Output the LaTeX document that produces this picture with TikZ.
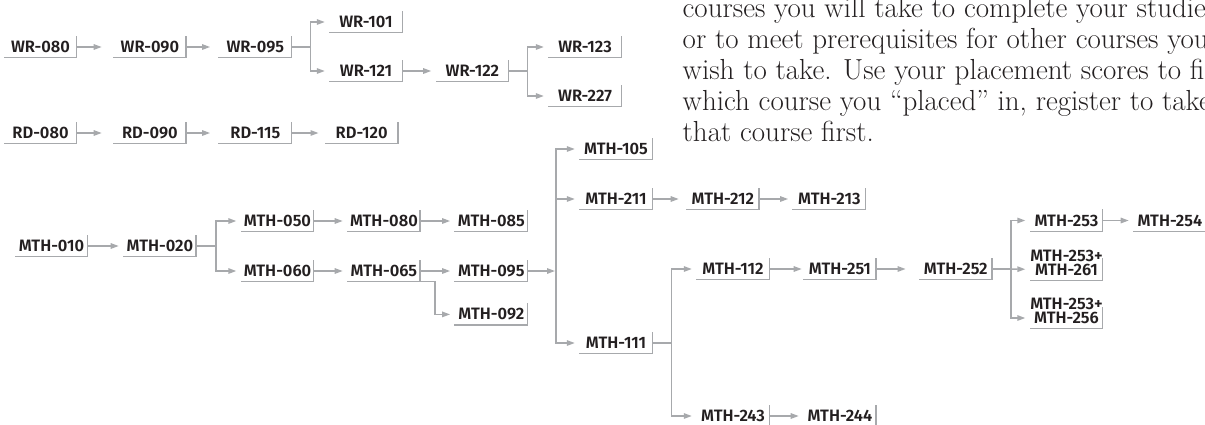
\documentclass[tikz,border=0pt]{standalone}
\usepackage{fontspec}
\newfontfamily\crsfont{Fira Sans SemiBold}
\usetikzlibrary{arrows.meta,positioning}
\definecolor{linegray}{HTML}{A7A9AC}
\definecolor{ink}{HTML}{231F20}

\begin{document}
\begin{tikzpicture}[x=1pt,y=-1pt,->,>={Triangle[length=8pt,width=5.5pt]},
                    shorten >=5pt,line width=1.4pt,linegray,node distance=34pt]
  \tikzstyle{course}=[minimum width=71pt,minimum height=20pt,inner sep=0pt,
    text=ink,font=\crsfont\fontsize{16.5}{16.5}\selectfont,
    append after command={(\tikzlastnode.south west)
      edge[-,shorten >=0pt,line cap=rect] (\tikzlastnode.south east)
      (\tikzlastnode.south east)
      edge[-,shorten >=0pt,line cap=rect] (\tikzlastnode.north east)}]
  \tikzstyle{pluslabel}=[inner sep=0pt,yshift=-3.2pt,text=ink,
    font=\crsfont\fontsize{16.5}{16.5}\selectfont]

  \useasboundingbox (0,0) rectangle (1205,424);

  % writing
  \node[course] (wr080) at (40.5,47) {WR-080};
  \node[course,right=37pt of wr080] (wr090) {WR-090};
  \node[course,right=33pt of wr090] (wr095) {WR-095};
  \node[course] (wr101) at (366,22) {WR-101};
  \node[course] (wr121) at (366,71) {WR-121};
  \node[course,right=of wr121] (wr122) {WR-122};
  \node[course] (wr123) at (585,47) {WR-123};
  \node[course] (wr227) at (585,96) {WR-227};

  % reading
  \node[course] (rd080) at (40.5,133) {RD-080};
  \node[course,right=37pt of rd080] (rd090) {RD-090};
  \node[course,right=33pt of rd090] (rd115) {RD-115};
  \node[course,right=of rd115] (rd120) {RD-120};

  % math
  \node[course] (mth010) at (51.5,246) {MTH-010};
  \node[course,right=36pt of mth010] (mth020) {MTH-020};
  \node[course] (mth050) at (277.5,221) {MTH-050};
  \node[course,right=of mth050] (mth080) {MTH-080};
  \node[course,right=35pt of mth080] (mth085) {MTH-085};
  \node[course] (mth060) at (277.5,271) {MTH-060};
  \node[course,right=of mth060] (mth065) {MTH-065};
  \node[course,right=35pt of mth065] (mth095) {MTH-095};
  \node[course,below=22pt of mth095] (mth092) {MTH-092};
  \node[course] (mth105) at (616,149) {MTH-105};
  \node[course] (mth211) at (616,199) {MTH-211};
  \node[course,right=34.5pt of mth211] (mth212) {MTH-212};
  \node[course,right=of mth212] (mth213) {MTH-213};
  \node[course] (mth111) at (616,343) {MTH-111};
  \node[course] (mth112) at (733,269) {MTH-112};
  \node[course,right=34.5pt of mth112] (mth251) {MTH-251};
  \node[course,right=43.5pt of mth251] (mth252) {MTH-252};
  \node[course] (mth243) at (733,416) {MTH-243};
  \node[course,right=34.5pt of mth243] (mth244) {MTH-244};
  \node[course] (mth253) at (1066.5,220.5) {MTH-253};
  \node[course,right=31pt of mth253] (mth254) {MTH-254};
  \node[course,label={[pluslabel]north:MTH-253+}] (mth261) at (1066.5,269.5) {MTH-261};
  \node[course,label={[pluslabel]north:MTH-253+}] (mth256) at (1066.5,318) {MTH-256};

  \node[anchor=base west,align=left,inner sep=0pt,text=ink,
        font=\fontsize{29}{31}\selectfont] (blurb) at (682,141)
    {courses you will take to complete your studies\\
     or to meet prerequisites for other courses you\\
     wish to take. Use your placement scores to find\\
     which course you “placed” in, register to take\\
     that course first.};

  \path (wr080) edge[shorten >=12pt] (wr090)
        (wr090) edge[shorten >=9pt] (wr095)
        (wr121) edge (wr122)
        (rd080) edge[shorten >=12pt] (rd090)
        (rd090) edge[shorten >=9pt] (rd115)
        (rd115) edge[shorten >=7pt] (rd120)
        (mth010) edge (mth020)
        (mth050) edge (mth080)
        (mth080) edge (mth085)
        (mth060) edge (mth065)
        (mth065) edge (mth095)
        (mth211) edge[shorten >=8pt] (mth212)
        (mth212) edge (mth213)
        (mth112) edge[shorten >=2pt] (mth251)
        (mth251) edge[shorten >=14pt] (mth252)
        (mth243) edge (mth244)
        (mth253) edge (mth254);

  % branches
  \draw (wr095.east) -- ++(19,0) |- (wr101);
  \draw (wr095.east) -- ++(19,0) |- (wr121);
  \draw (wr122.east) -- ++(19,0) |- (wr123);
  \draw (wr122.east) -- ++(19,0) |- (wr227);
  \draw (mth020.east) -- ++(20,0) |- (mth050);
  \draw (mth020.east) -- ++(20,0) |- (mth060);
  \draw (mth065.south east) -- ++(15,0) |- (mth092);
  \coordinate (hub) at (556,271);
  \draw[shorten >=1pt] (mth095) -- (hub);
  \draw (hub) |- (mth105);
  \draw (hub) |- (mth111);
  \draw (hub |- mth211) -- (mth211);
  \draw (mth111.east) -- ++(19,0) |- (mth112);
  \draw (mth111.east) -- ++(19,0) |- (mth243);
  \draw (mth252.east) -- ++(19,0) |- (mth253);
  \draw (mth252.east) -- (mth261);
  \draw (mth252.east) -- ++(19,0) |- (mth256);
\end{tikzpicture}
\end{document}
